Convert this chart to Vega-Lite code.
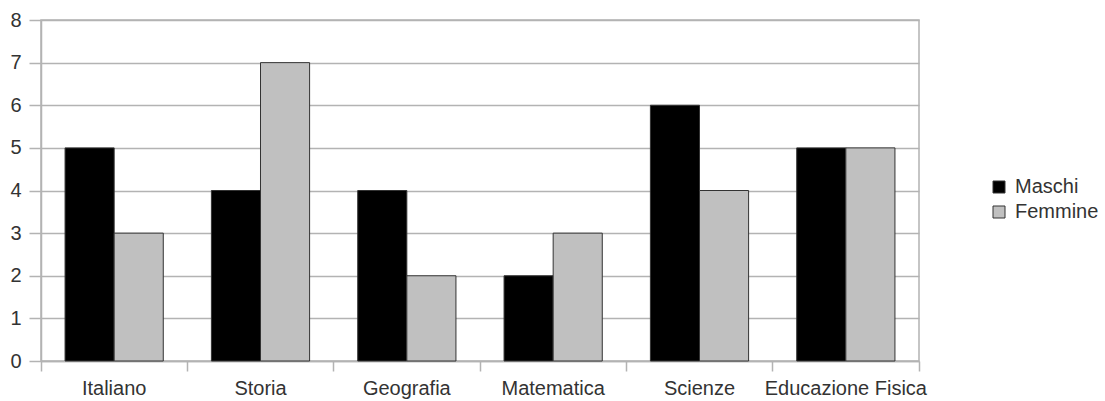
{
  "$schema": "https://vega.github.io/schema/vega-lite/v6.json",
  "autosize": "none",
  "width": 878,
  "height": 341,
  "padding": {"left": 41, "top": 20, "right": 186, "bottom": 40},
  "background": "white",
  "config": {
    "font": "Liberation Sans",
    "view": {"stroke": "#b3b3b3", "strokeWidth": 1.5}
  },
  "data": {
    "values": [
      {"materia": "Italiano", "sesso": "Maschi", "voto": 5},
      {"materia": "Italiano", "sesso": "Femmine", "voto": 3},
      {"materia": "Storia", "sesso": "Maschi", "voto": 4},
      {"materia": "Storia", "sesso": "Femmine", "voto": 7},
      {"materia": "Geografia", "sesso": "Maschi", "voto": 4},
      {"materia": "Geografia", "sesso": "Femmine", "voto": 2},
      {"materia": "Matematica", "sesso": "Maschi", "voto": 2},
      {"materia": "Matematica", "sesso": "Femmine", "voto": 3},
      {"materia": "Scienze", "sesso": "Maschi", "voto": 6},
      {"materia": "Scienze", "sesso": "Femmine", "voto": 4},
      {"materia": "Educazione Fisica", "sesso": "Maschi", "voto": 5},
      {"materia": "Educazione Fisica", "sesso": "Femmine", "voto": 5}
    ]
  },
  "mark": {"type": "bar", "stroke": "#333333", "strokeWidth": 1},
  "encoding": {
    "x": {
      "field": "materia",
      "type": "nominal",
      "sort": null,
      "scale": {"paddingInner": 0, "paddingOuter": 0},
      "axis": {
        "title": null,
        "labelAngle": 0,
        "labelFont": "Liberation Sans",
        "labelFontSize": 20,
        "labelColor": "#333333",
        "labelPadding": 7,
        "labelOverlap": false,
        "bandPosition": 1,
        "tickExtra": true,
        "tickSize": 10,
        "tickColor": "#b3b3b3",
        "tickWidth": 1.5,
        "domainColor": "#b3b3b3",
        "domainWidth": 1.5,
        "grid": false
      }
    },
    "xOffset": {
      "field": "sesso",
      "type": "nominal",
      "sort": ["Maschi", "Femmine"],
      "scale": {"paddingInner": 0, "paddingOuter": 0.49}
    },
    "y": {
      "field": "voto",
      "type": "quantitative",
      "scale": {"domain": [0, 8], "nice": false},
      "axis": {
        "title": null,
        "values": [0, 1, 2, 3, 4, 5, 6, 7, 8],
        "labelFont": "Liberation Sans",
        "labelFontSize": 20,
        "labelColor": "#333333",
        "labelPadding": 8,
        "labelOverlap": false,
        "tickSize": 12,
        "tickColor": "#b3b3b3",
        "tickWidth": 1.5,
        "domainColor": "#b3b3b3",
        "domainWidth": 1.5,
        "grid": true,
        "gridColor": "#b3b3b3",
        "gridWidth": 1.5
      }
    },
    "fill": {
      "field": "sesso",
      "type": "nominal",
      "sort": ["Maschi", "Femmine"],
      "scale": {"domain": ["Maschi", "Femmine"], "range": ["#000000", "#c0c0c0"]},
      "legend": {
        "title": null,
        "orient": "none",
        "legendX": 948,
        "legendY": 157,
        "labelFont": "Liberation Sans",
        "labelFontSize": 20,
        "labelColor": "#333333",
        "symbolType": "square",
        "symbolSize": 144,
        "symbolStrokeColor": "#333333",
        "symbolStrokeWidth": 1,
        "labelOffset": 6,
        "rowPadding": 5
      }
    }
  }
}
